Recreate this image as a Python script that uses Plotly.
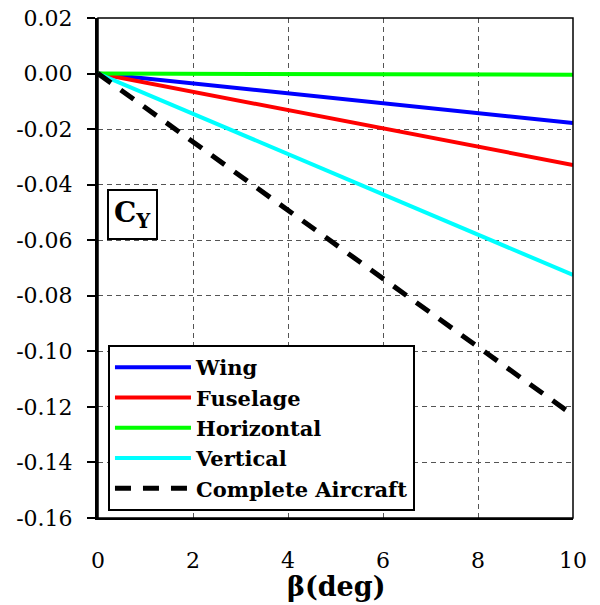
import plotly.graph_objects as go

beta = [0, 2, 4, 6, 8, 10]
wing = [0, -0.0036, -0.0071, -0.0107, -0.0142, -0.0178]
fuselage = [0, -0.0066, -0.0132, -0.0197, -0.0263, -0.0329]
horizontal = [0, -0.0001, -0.0002, -0.0002, -0.0003, -0.0004]
vertical = [0, -0.0145, -0.0290, -0.0435, -0.0580, -0.0725]
complete = [0, -0.0246, -0.0492, -0.0738, -0.0984, -0.1230]

names = ["Wing", "Fuselage", "Horizontal", "Vertical", "Complete Aircraft"]
series = [wing, fuselage, horizontal, vertical, complete]
colors = ["#0000FF", "#FF0000", "#00FF00", "#00FFFF", "#000000"]
dashes = ["solid", "solid", "solid", "solid", "16px,12px"]
widths = [4, 4, 4, 4, 5]

x_ticks = [0, 2, 4, 6, 8, 10]
y_ticks = [0.02, 0.00, -0.02, -0.04, -0.06, -0.08, -0.10, -0.12, -0.14, -0.16]
y_labels = ["%.2f" % v for v in y_ticks]

fig = go.Figure()
for n, s, c, d, w in zip(names, series, colors, dashes, widths):
    fig.add_trace(go.Scatter(x=beta, y=s, mode="lines", name=n,
                             line=dict(color=c, width=w, dash=d)))

font_fam = "DejaVu Serif"
fig.update_layout(
    width=600, height=605,
    margin=dict(l=98, r=27, t=18, b=87),
    plot_bgcolor="white", paper_bgcolor="white",
    font=dict(family=font_fam, color="black"),
    legend=dict(x=0.021, y=0.014, xanchor="left", yanchor="bottom",
                bgcolor="white", bordercolor="black", borderwidth=2,
                font=dict(family=font_fam, size=21, color="black", weight="bold"),
                itemwidth=76, tracegroupgap=0),
    xaxis=dict(range=[0, 10], tickvals=x_ticks, ticktext=[str(v) for v in x_ticks],
               showgrid=True, gridcolor="#555555", gridwidth=1, griddash="5px,4px",
               showline=True, linecolor="black", linewidth=2, ticks="",
               ticklabelstandoff=22, tickfont=dict(size=22), automargin=False,
               zeroline=False),
    yaxis=dict(range=[-0.16, 0.02], tickvals=y_ticks, ticktext=y_labels,
               showgrid=True, gridcolor="#555555", gridwidth=1, griddash="5px,4px",
               showline=True, linecolor="black", linewidth=3,
               ticks="outside", ticklen=8, tickcolor="black", tickwidth=1.5,
               ticklabelstandoff=10, tickfont=dict(size=22), zeroline=False,
               automargin=False),
)

fig.add_shape(type="rect", xref="paper", yref="paper", x0=0, y0=0, x1=1, y1=1,
              line=dict(color="black", width=1.5), layer="above")

fig.add_annotation(xref="paper", yref="paper", x=0.5, y=-0.136,
                   xanchor="center", yanchor="middle",
                   text="<b>β(deg)</b>", showarrow=False,
                   font=dict(family=font_fam, size=27, color="black"))

fig.add_annotation(xref="paper", yref="paper", x=0.0716, y=0.607,
                   xanchor="center", yanchor="middle",
                   text="<b>C<sub>Y</sub></b>", showarrow=False,
                   font=dict(family=font_fam, size=28, color="black"),
                   bordercolor="black", borderwidth=2, borderpad=5, bgcolor="white")

fig.write_html("out.html")
